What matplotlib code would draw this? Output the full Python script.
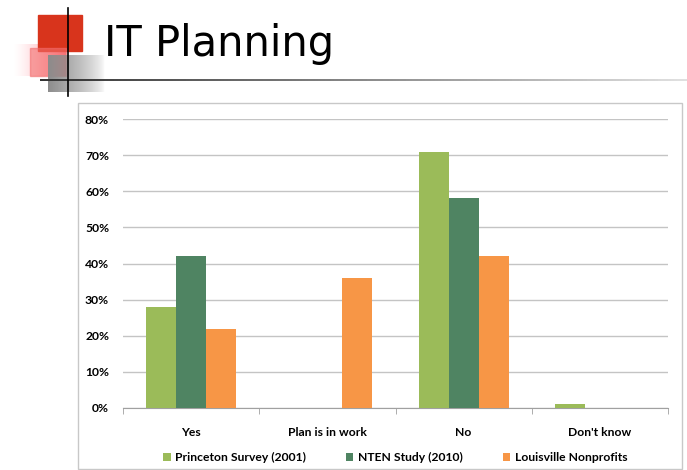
import matplotlib.pyplot as plt
import numpy as np
from matplotlib.patches import Rectangle

categories = ["Yes", "Plan is in work", "No", "Don't know"]
series = ["Princeton Survey (2001)", "NTEN Study (2010)", "Louisville Nonprofits"]
princeton = [28, 0, 71, 1]
nten = [42, 0, 58, 0]
louisville = [22, 36, 42, 0]
yticks = [0, 10, 20, 30, 40, 50, 60, 70, 80]

colors = ["#9BBB59", "#4F8462", "#F79646"]

fig = plt.figure(figsize=(6.87, 4.70), dpi=100)

# slide decoration layer in pixel coordinates
deco = fig.add_axes([0, 0, 1, 1])
deco.set_xlim(0, 687)
deco.set_ylim(470, 0)
deco.axis("off")

# pink gradient block fading to the left
grad = np.linspace(0, 1, 100)[None, :] ** 1.5
pink = np.zeros((1, 100, 4))
pink[..., 0] = 1.0
pink[..., 1] = 0.35
pink[..., 2] = 0.4
pink[..., 3] = grad * 0.8
deco.imshow(pink, extent=(12, 66, 76, 44), aspect="auto", zorder=1)

deco.add_patch(Rectangle((38, 15), 44, 36, color="#D8341C", zorder=2))
# grey block fading to the right
g = np.linspace(1, 0, 100)[None, :] ** 0.7
grey = np.zeros((1, 100, 4))
grey[..., :3] = 0.55
grey[..., 3] = g
deco.imshow(grey, extent=(48, 105, 92, 55), aspect="auto", zorder=3)
deco.add_patch(Rectangle((30, 48), 36, 28, color="#F26D6D", alpha=0.6, zorder=2))

# horizontal rule under the title, fading to the right
line = np.zeros((1, 200, 4))
line[..., :3] = 0.2
line[..., 3] = np.linspace(1, 0.15, 200)
deco.imshow(line, extent=(40, 687, 81, 79), aspect="auto", zorder=4)
deco.plot([68, 68], [8, 96], color="black", lw=1.2, zorder=5)

deco.text(104, 44, "IT Planning", fontsize=30, family="DejaVu Sans",
          va="center", ha="left", color="black", zorder=6)

# chart frame
deco.add_patch(Rectangle((78, 103), 604, 366, fill=False, ec="#C8C8C8", lw=1.0, zorder=1))

font = {"family": "Lato", "weight": "bold", "size": 8.7}

ax = fig.add_axes([123 / 687, 62 / 470, 545 / 687, 289 / 470])
x = np.arange(len(categories))
w = 0.22
for i, (vals, name) in enumerate(zip([princeton, nten, louisville], series)):
    ax.bar(x + (i - 1) * w, vals, width=w, color=colors[i], label=name, zorder=3)

ax.set_xlim(-0.5, len(categories) - 0.5)
ax.set_ylim(0, 80)
ax.set_yticks(yticks)
ax.set_yticklabels([f"{t}%" for t in yticks], **font)
ax.yaxis.grid(True, color="#C4C4C4", lw=1.0, zorder=0)
ax.tick_params(axis="y", length=0, pad=10)
ax.set_xticks(x)
ax.set_xticklabels(categories, **font)
ax.tick_params(axis="x", length=0, pad=14)
ax.set_xticks(np.arange(-0.5, len(categories)), minor=True)
ax.tick_params(axis="x", which="minor", length=4, color="#A0A0A0")
for s in ["top", "right", "left"]:
    ax.spines[s].set_visible(False)
ax.spines["bottom"].set_color("#A0A0A0")

leg = ax.legend(loc="upper center", bbox_to_anchor=(0.5, -0.115), ncol=3, frameon=False,
                prop=font, handlelength=0.6, handleheight=0.6, handletextpad=0.4,
                columnspacing=3.3)

fig.savefig("out.png", dpi=100)
